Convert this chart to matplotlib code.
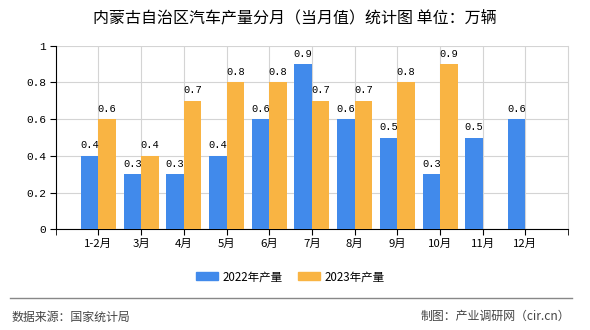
import matplotlib
matplotlib.use("Agg")
import matplotlib.pyplot as plt
from matplotlib.patches import Patch
from matplotlib.lines import Line2D
import numpy as np

plt.rcParams['font.family'] = ['Noto Sans CJK SC', 'DejaVu Sans']

# data
months = ["1-2月", "3月", "4月", "5月", "6月", "7月", "8月", "9月", "10月", "11月", "12月"]
prod_2022 = [0.4, 0.3, 0.3, 0.4, 0.6, 0.9, 0.6, 0.5, 0.3, 0.5, 0.6]
prod_2023 = [0.6, 0.4, 0.7, 0.8, 0.8, 0.7, 0.7, 0.8, 0.9, None, None]

c22 = "#418AEB"
c23 = "#F9B443"

fig = plt.figure(figsize=(5.9, 3.3), dpi=100)
ax = fig.add_axes([0.0944, 0.305, 0.8686, 0.5565])

x = np.arange(1, len(months) + 1)
w = 0.41
ax.bar(x - w / 2, prod_2022, width=w, color=c22, zorder=3)
x23 = [xi for xi, v in zip(x, prod_2023) if v is not None]
v23 = [v for v in prod_2023 if v is not None]
ax.bar(np.array(x23) + w / 2, v23, width=w, color=c23, zorder=3)

# value labels
for xi, v in zip(x, prod_2022):
    ax.annotate(f"{v:.1f}", (xi - w / 2, v), xytext=(0, 4), textcoords="offset points",
                ha="center", va="bottom", fontsize=7.5, family="Liberation Mono")
for xi, v in zip(x23, v23):
    ax.annotate(f"{v:.1f}", (xi + w / 2, v), xytext=(0, 4), textcoords="offset points",
                ha="center", va="bottom", fontsize=7.5, family="Liberation Mono")

ax.set_xlim(0, 12)
ax.set_ylim(0, 1)
ax.set_xticks(x)
ax.set_xticklabels(months, fontsize=8.2)
ax.set_xticks(np.arange(0, 13), minor=True)
ax.set_yticks([0, 0.2, 0.4, 0.6, 0.8, 1])
ax.set_yticklabels(["0", "0.2", "0.4", "0.6", "0.8", "1"], fontsize=8, family="Liberation Mono")
ax.tick_params(axis="x", which="both", length=4, direction="out", color="black", pad=3)
ax.tick_params(axis="y", length=4, direction="out", color="black", pad=3)
ax.grid(True, which="major", color="#d4d4d4", linewidth=0.8, zorder=0)
ax.set_axisbelow(True)
ax.spines["top"].set_visible(False)
ax.spines["right"].set_color("#d4d4d4")
ax.spines["left"].set_color("black")
ax.spines["bottom"].set_color("black")

fig.text(0.4995, 0.945, "内蒙古自治区汽车产量分月（当月值）统计图 单位：万辆", ha="center", va="center", fontsize=11.5)

handles = [Patch(color=c22, label="2022年产量"), Patch(color=c23, label="2023年产量")]
fig.legend(handles=handles, loc="center", bbox_to_anchor=(0.492, 0.161), ncol=2, frameon=False,
           fontsize=8.3, handlelength=1.9, handleheight=0.7, handletextpad=0.35, columnspacing=1.4)

fig.add_artist(Line2D([0.017, 0.969], [0.096, 0.096], color="#888888", linewidth=1))
fig.text(0.020, 0.040, "数据来源：国家统计局", ha="left", va="center", fontsize=8.6, color="#444444")
fig.text(0.966, 0.040, "制图：产业调研网（cir.cn）", ha="right", va="center", fontsize=8.6, color="#444444")

fig.savefig("out.png", dpi=100)
